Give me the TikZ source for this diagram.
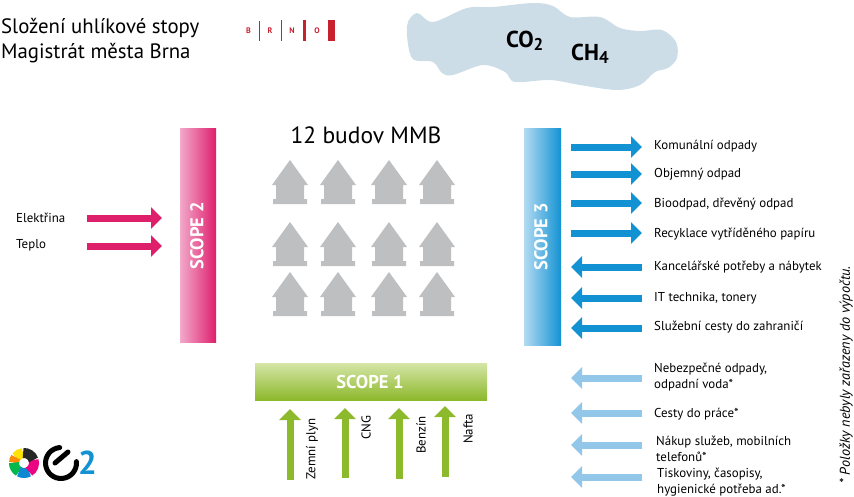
\documentclass[tikz,border=0pt]{standalone}
\usepackage{fontspec}
\setmainfont{PT Sans}
\usetikzlibrary{arrows.meta}
\definecolor{pinkflow}{HTML}{DE1F6C}
\definecolor{pinkpale}{HTML}{F3A9CB}
\definecolor{blueflow}{HTML}{1392D3}
\definecolor{bluepale}{HTML}{B3DBF2}
\definecolor{paleflow}{HTML}{93C7E9}
\definecolor{greenflow}{HTML}{8DB92C}
\definecolor{greenpale}{HTML}{D5E5A6}
\definecolor{brnored}{HTML}{C8202F}
\definecolor{cloudblue}{HTML}{CDDDE8}
\definecolor{budovagray}{HTML}{BDBFC1}
\tikzset{
  scopebar/.style={minimum width=#1, inner sep=0pt, outer sep=0pt},
  scopetxt/.style={text=white, font=\fontsize{18.5}{18.5}\selectfont\bfseries},
  toptxt/.style={anchor=base west, font=\fontsize{20.8}{20.8}\selectfont, inner sep=0pt},
  gastxt/.style={anchor=base west, font=\fontsize{23}{23}\selectfont\bfseries, inner sep=0pt},
  itemtxt/.style={anchor=west, font=\fontsize{12.9}{15.8}\selectfont, inner sep=0pt, align=left},
  uptxt/.style={anchor=west, rotate=90, font=\fontsize{12.9}{13}\selectfont, inner sep=0pt},
  brnotxt/.style={text=brnored, font=\fontsize{8}{8}\selectfont\bfseries, inner sep=0pt},
  flow/.style={-{Triangle[width=21pt,length=11pt]}, line width=7pt, draw=#1},
  flow/.default=blueflow,
  budova/.style={fill=budovagray},
  ballpart/.style={line width=10pt, draw=#1}
}
\newcommand{\flowarrow}[4]{\coordinate (#2a) at #3; \coordinate (#2b) at #4; \draw[flow=#1] (#2a) -- (#2b);}
\newcommand{\budovaicon}[2]{\fill[budova] (#1,#2) -- ++(18,25) -- ++(-4,0) -- ++(0,14) -- ++(3,0) -- ++(0,5)
  -- ++(-34,0) -- ++(0,-5) -- ++(3,0) -- ++(0,-14) -- ++(-4,0) -- cycle;}
\newcommand{\ballpiece}[3]{\draw[ballpart=#3] ([shift={(#1:10pt)}]ball) arc[start angle=#1, end angle=#2, radius=10pt];}

\begin{document}
\begin{tikzpicture}[x=1pt, y=-1pt]
  \useasboundingbox (0,0) rectangle (854,496);

  % header
  \node[toptxt] (title1) at (1,33) {Složení uhlíkové stopy};
  \node[toptxt] (title2) at (1,58) {Magistrát města Brna};
  \node[brnotxt] (brnoB) at (248.5,31) {B};
  \node[brnotxt] (brnoR) at (270,31) {R};
  \node[brnotxt] (brnoN) at (292,31) {N};
  \node[brnotxt] (brnoO) at (317,31) {O};
  \fill[brnored] (258.5,21) rectangle (259.2,41);
  \fill[brnored] (281,20) rectangle (282.2,41);
  \fill[brnored] (303,20) rectangle (306,41);
  \fill[brnored] (328,20) rectangle (335,41);

  % cloud
  \fill[cloudblue] plot[smooth cycle, tension=.55] coordinates {
    (407,26) (417,13) (433,22) (467,8) (493,7) (533,3) (553,6) (570,17) (600,17) (620,28)
    (640,31) (662,30) (676,42) (677,58) (668,68) (655,72) (640,85) (617,90) (580,85) (550,80)
    (515,82) (505,72) (483,65) (453,75) (442,73) (433,62) (412,58)};
  \node[gastxt] (co2) at (506,47) {CO\textsubscript{\fontsize{17}{17}\selectfont 2}};
  \node[gastxt] (ch4) at (571,60) {CH\textsubscript{\fontsize{17}{17}\selectfont 4}};

  % scope 2
  \node[scopebar=36pt, minimum height=214pt, left color=pinkpale, right color=pinkflow] (scope2) at (198,235) {};
  \node[scopetxt, rotate=90] (scope2txt) at (197,236) {SCOPE 2};
  \node[itemtxt] (elektrina) at (16,218) {Elektřina};
  \node[itemtxt] (teplo) at (16,245) {Teplo};
  \flowarrow{pinkflow}{el}{(87,218)}{(162,218)}
  \flowarrow{pinkflow}{te}{(87,246)}{(162,246)}

  % buildings
  \node[font=\fontsize{23.5}{23.5}\selectfont, inner sep=0pt] (budovy) at (366,135) {12 budov MMB};
  \budovaicon{290}{160} \budovaicon{338}{160} \budovaicon{389}{160} \budovaicon{437}{160}
  \budovaicon{290}{222} \budovaicon{338}{222} \budovaicon{389}{222} \budovaicon{437}{222}
  \budovaicon{290}{272} \budovaicon{338}{272} \budovaicon{389}{272} \budovaicon{437}{272}

  % scope 1
  \node[scopebar=232pt, minimum height=37pt, top color=greenpale, bottom color=greenflow] (scope1) at (371,381.5) {};
  \node[scopetxt] (scope1txt) at (370,382) {SCOPE 1};
  \flowarrow{greenflow}{zp}{(290,480)}{(290,409)}
  \flowarrow{greenflow}{cn}{(345,478)}{(345,408)}
  \flowarrow{greenflow}{be}{(399,479)}{(399,408)}
  \flowarrow{greenflow}{na}{(445,477)}{(445,406)}
  \node[uptxt] (zemni) at (312,480) {Zemní plyn};
  \node[uptxt] (cng) at (366,440) {CNG};
  \node[uptxt] (benzin) at (421,454) {Benzín};
  \node[uptxt] (nafta) at (468,444) {Nafta};

  % scope 3
  \node[scopebar=37pt, minimum height=217pt, left color=bluepale, right color=blueflow] (scope3) at (542.5,236.5) {};
  \node[scopetxt, rotate=90] (scope3txt) at (541,237) {SCOPE 3};
  \flowarrow{blueflow}{ko}{(571,147)}{(642,147)}
  \flowarrow{blueflow}{ob}{(571,174)}{(642,174)}
  \flowarrow{blueflow}{bi}{(571,203)}{(642,203)}
  \flowarrow{blueflow}{re}{(571,233)}{(642,233)}
  \flowarrow{blueflow}{ka}{(642,267)}{(571,267)}
  \flowarrow{blueflow}{it}{(642,298)}{(571,298)}
  \flowarrow{blueflow}{sl}{(642,328)}{(571,328)}
  \flowarrow{paleflow}{ne}{(642,378)}{(571,378)}
  \flowarrow{paleflow}{ce}{(642,413)}{(571,413)}
  \flowarrow{paleflow}{nk}{(642,445)}{(571,445)}
  \flowarrow{paleflow}{ti}{(642,477)}{(571,477)}
  \node[itemtxt] (komunalni) at (654,146) {Komunální odpady};
  \node[itemtxt] (objemny) at (654,174) {Objemný odpad};
  \node[itemtxt] (bioodpad) at (654,204) {Bioodpad, dřevěný odpad};
  \node[itemtxt] (recyklace) at (654,234) {Recyklace vytříděného papíru};
  \node[itemtxt] (kancelar) at (654,267) {Kancelářské potřeby a nábytek};
  \node[itemtxt] (ittech) at (654,298) {IT technika, tonery};
  \node[itemtxt] (sluzebni) at (654,327) {Služební cesty do zahraničí};
  \node[itemtxt] (nebezpecne) at (654,377) {Nebezpečné odpady,\\odpadní voda*};
  \node[itemtxt] (cesty) at (654,414) {Cesty do práce*};
  \node[itemtxt] (nakup) at (656,449) {Nákup služeb, mobilních\\telefonů*};
  \node[itemtxt] (tiskoviny) at (657,482) {Tiskoviny, časopisy,\\hygienické potřeba ad.*};
  \node[uptxt, font=\fontsize{14.2}{14.2}\selectfont\itshape] (pozn) at (846,484) {* Položky nebyly zařazeny do výpočtu.};

  % logo
  \coordinate (ball) at (24,463);
  \ballpiece{95}{145}{yellow!85!orange}
  \ballpiece{145}{178}{orange!90!yellow}
  \ballpiece{178}{240}{green!60!black!70!cyan}
  \ballpiece{240}{300}{cyan!70!blue}
  \ballpiece{300}{378}{magenta!90!red}
  \ballpiece{18}{95}{black!85}
  \coordinate (carc) at (61,463);
  \draw[line width=5pt, line cap=round] ([shift={(95:15.5pt)}]carc) arc[start angle=95, end angle=365, radius=15.5pt];
  \coordinate (cstart) at (55,463);
  \coordinate (cend) at (68,452);
  \draw[line width=5pt, line cap=round] (cstart) -- (cend);
  \node[text=blueflow, font=\fontsize{33}{33}\selectfont\bfseries, inner sep=0pt] (dva) at (87.5,462.5) {2};
\end{tikzpicture}
\end{document}
